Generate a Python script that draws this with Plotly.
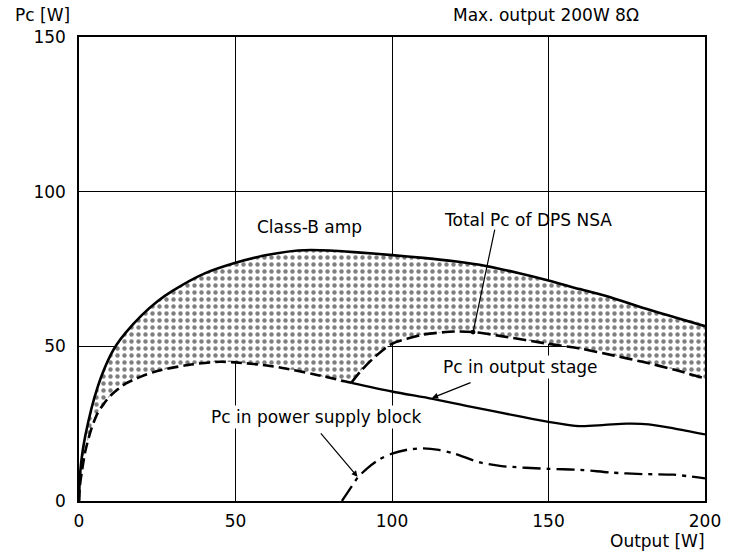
import plotly.graph_objects as go

# Collector dissipation Pc [W] versus output power [W]
classb_x = [0, 0.3, 1, 2, 4, 6, 8, 10, 12, 15, 20, 25, 30, 40, 50, 60, 70, 80, 90, 100,
            110, 120, 130, 140, 150, 160, 170, 180, 190, 200]
classb_y = [0, 8, 15, 21, 30, 37, 42.5, 47, 50.5, 54.5, 60, 64.5, 68, 73.5, 77, 79.5, 81, 81,
            80.3, 79.5, 78.6, 77.5, 76, 73.8, 71.3, 68.5, 65.8, 62.5, 59.5, 56.5]

stage_x_dash = [0, 0.3, 1, 2, 4, 6, 8, 10, 15, 20, 25, 35, 45, 50, 60, 65, 75, 87]
stage_y_dash = [0, 5, 10, 16, 23.5, 28.5, 31.5, 34, 38, 40.3, 42, 44, 45, 44.8, 43.8, 43, 41, 38.2]
stage_x_solid = [87, 100, 113, 125, 140, 150, 160, 168, 175, 182, 190, 200]
stage_y_solid = [38.2, 35.4, 33, 30.5, 27.5, 25.6, 24.2, 24.6, 25, 24.8, 23.5, 21.5]

total_x = [87, 90, 95, 100, 105, 110, 120, 126, 135, 150, 160, 171, 180, 190, 200]
total_y = [38.2, 42, 47, 50.8, 52.5, 53.8, 54.8, 54.6, 53.3, 50.8, 49.3, 47, 45, 42.5, 39.6]

supply_x = [84, 86, 89, 92, 96, 100, 105, 110, 115, 120, 128, 135, 150, 160, 170, 180, 190, 200]
supply_y = [0, 3, 7.5, 10.5, 13.5, 15.3, 16.6, 17, 16.5, 15.3, 12.5, 11.3, 10.4, 10.1, 9.2, 8.7, 8.5, 7.3]

x_ticks = [0, 50, 100, 150, 200]
y_ticks = [0, 50, 100, 150]

FONT = "DejaVu Sans"
INK = "black"
PLOT_L, PLOT_R, PLOT_T, PLOT_B = 79, 42, 37, 52
FIG_W, FIG_H = 747, 553
PLOT_W = FIG_W - PLOT_L - PLOT_R


def paper_x(px):
    """Convert a figure pixel column into paper coordinates."""
    return (px - PLOT_L) / PLOT_W


fig = go.Figure()

# Stippled band between the class-B curve and the DPS NSA total
lower_x = stage_x_dash[:-1] + total_x
lower_y = stage_y_dash[:-1] + total_y
fig.add_trace(go.Scatter(
    x=classb_x + lower_x[::-1],
    y=classb_y + lower_y[::-1],
    mode="lines", line=dict(width=0, shape="spline", smoothing=0.8),
    fill="toself", fillcolor="rgba(255,255,255,0)",
    fillpattern=dict(shape=".", fgcolor=INK, bgcolor="white", size=7, solidity=0.32),
    hoverinfo="skip", showlegend=False,
))

line_kw = dict(shape="spline", smoothing=0.8)
fig.add_trace(go.Scatter(x=classb_x, y=classb_y, mode="lines",
                         line=dict(color=INK, width=2.6, **line_kw),
                         hoverinfo="skip", showlegend=False))
fig.add_trace(go.Scatter(x=stage_x_dash, y=stage_y_dash, mode="lines",
                         line=dict(color=INK, width=2.6, dash="11px,5px", **line_kw),
                         hoverinfo="skip", showlegend=False))
fig.add_trace(go.Scatter(x=stage_x_solid, y=stage_y_solid, mode="lines",
                         line=dict(color=INK, width=2.3, **line_kw),
                         hoverinfo="skip", showlegend=False))
fig.add_trace(go.Scatter(x=total_x, y=total_y, mode="lines",
                         line=dict(color=INK, width=2.6, dash="13px,5px", **line_kw),
                         hoverinfo="skip", showlegend=False))
fig.add_trace(go.Scatter(x=supply_x, y=supply_y, mode="lines",
                         line=dict(color=INK, width=2.3, dash="18px,6px,4px,6px", **line_kw),
                         hoverinfo="skip", showlegend=False))

tfont = dict(family=FONT, size=17, color=INK)

# Curve labels
fig.add_annotation(x=73.8, y=88.6, text="Class-B amp", showarrow=False, font=tfont)
fig.add_annotation(x=143.3, y=90.8, text="Total Pc of DPS NSA", showarrow=False, font=tfont)
fig.add_annotation(x=141.2, y=43.3, text="Pc in output stage", showarrow=False, font=tfont,
                   bgcolor="white")
fig.add_annotation(x=75.9, y=27.2, text="Pc in power supply block", showarrow=False,
                   font=tfont, bgcolor="white")

# Leader arrows
arrow_kw = dict(text="", showarrow=True, arrowcolor=INK, arrowwidth=1.2, arrowsize=1,
                axref="pixel", ayref="pixel")
fig.add_annotation(x=125.9, y=54.6, ax=22, ay=-104, arrowhead=6, **arrow_kw)
fig.add_annotation(x=112.8, y=33.3, ax=40, ay=-16, arrowhead=2, **arrow_kw)
fig.add_annotation(x=89.0, y=7.8, ax=-38, ay=-45, arrowhead=2, **arrow_kw)

# Axis captions
fig.add_annotation(xref="paper", yref="paper", x=paper_x(13), y=1.0, yshift=22,
                   xanchor="left", yanchor="middle", text="Pc [W]", showarrow=False, font=tfont)
fig.add_annotation(xref="paper", yref="paper", x=paper_x(546), y=1.0, yshift=22,
                   xanchor="center", yanchor="middle", text="Max. output 200W 8Ω",
                   showarrow=False, font=tfont)
fig.add_annotation(xref="paper", yref="paper", x=paper_x(707), y=0.0, yshift=-40,
                   xanchor="right", yanchor="middle", text="Output [W]",
                   showarrow=False, font=tfont)

axis_common = dict(showgrid=True, gridcolor=INK, gridwidth=1, showline=True, linecolor=INK,
                   linewidth=1.5, mirror=True, zeroline=False, ticks="",
                   tickfont=dict(family=FONT, size=17, color=INK), fixedrange=True)
fig.update_xaxes(range=[0, 200], tickvals=x_ticks, ticktext=[str(v) for v in x_ticks],
                 ticklabelstandoff=4, **axis_common)
fig.update_yaxes(range=[0, 150], tickvals=y_ticks, ticktext=[str(v) for v in y_ticks],
                 ticklabelstandoff=8, **axis_common)

fig.update_layout(
    width=FIG_W, height=FIG_H,
    margin=dict(l=PLOT_L, r=PLOT_R, t=PLOT_T, b=PLOT_B),
    paper_bgcolor="white", plot_bgcolor="white",
    showlegend=False,
)

fig.write_html("out.html")
